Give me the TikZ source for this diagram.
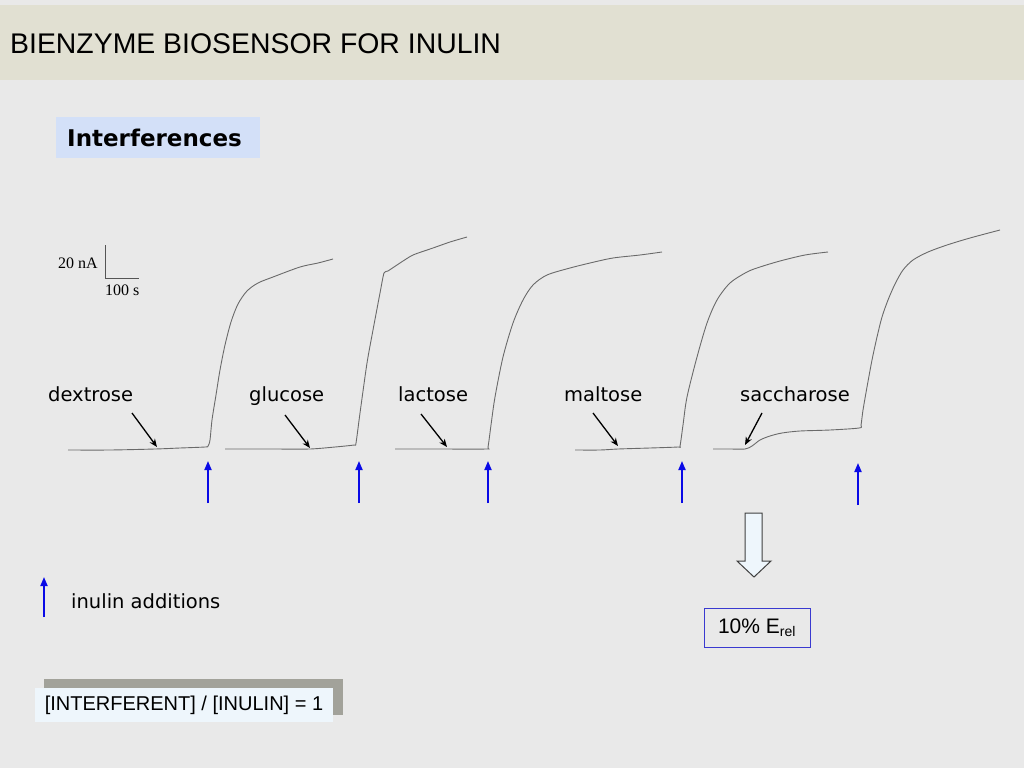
\documentclass[tikz,border=0pt]{standalone}
\usepackage{fontspec}
\setmainfont{Liberation Sans}
\newfontfamily\verd{DejaVu Sans}
\newfontfamily\tms{Liberation Serif}
\usetikzlibrary{arrows.meta}
\definecolor{bgc}{HTML}{E9E9E9}
\definecolor{bandc}{HTML}{E1E0D2}
\definecolor{intc}{HTML}{D3E0F8}
\definecolor{curvec}{HTML}{6A6A6A}
\definecolor{bluearr}{HTML}{0A0AE6}
\definecolor{paleblue}{HTML}{EEF6FC}
\definecolor{shadowc}{HTML}{A2A29A}
\definecolor{boxblue}{HTML}{3A3AD0}
\tikzset{
  trace/.style={curvec, line width=0.9pt, line join=round},
  addition/.style={bluearr, line width=1.8pt, -{Triangle[length=9pt,width=7pt]}},
  pointer/.style={black, line width=1.3pt, -{Stealth[length=8pt,width=6.5pt]}},
  sugar/.style={font=\verd\fontsize{19.5}{22}\selectfont, anchor=base west, inner sep=0pt},
}
\begin{document}
\begin{tikzpicture}[x=1pt,y=-1pt]
\useasboundingbox (0,0) rectangle (1024,768);
\fill[bgc] (0,0) rectangle (1024,768);
\fill[bandc] (0,5) rectangle (1024,80);
\node (title) [anchor=base west, inner sep=0pt, font=\fontsize{28.4}{32}\selectfont] at (10,53) {BIENZYME BIOSENSOR FOR INULIN};
\node (interf) [anchor=north west, fill=intc, minimum width=204pt, minimum height=41pt, text width=182pt, inner xsep=11pt, inner ysep=0pt, align=left, font=\verd\bfseries\fontsize{23}{26}\selectfont] at (56,117) {Interferences};

% scale bar
\coordinate (sbtop) at (105,245);
\coordinate (sbcorner) at (105,278);
\coordinate (sbright) at (139,278);
\draw[curvec!80!black, line width=1pt] (sbtop) -- (sbcorner) -- (sbright);
\node (nA) [anchor=base east, inner sep=0pt, font=\tms\fontsize{16}{18}\selectfont] at (98,268) {20 nA};
\node (sec) [anchor=base west, inner sep=0pt, font=\tms\fontsize{16}{18}\selectfont] at (105,295) {100 s};

% traces
\draw[trace] plot[smooth, tension=0.5] coordinates {(68,450) (110,450) (155,449) (180,448) (205,447) (208,446) (210,440) (212,420) (216,395) (220,370) (225,345) (231,322) (238,304) (247,291) (258,283) (273,277) (300,267) (318,263) (333,259)};
\draw[trace] plot[smooth, tension=0.4] coordinates {(225,449) (270,449) (310,449) (335,447) (354,445) (356,443) (360,413) (367,363) (373,330) (380,293) (384,273) (388,271) (400,263) (413,255) (433,248) (450,242) (467,237)};
\draw[trace] plot[smooth, tension=0.5] coordinates {(395,449) (440,449) (486,449) (488,447) (491,425) (495,397) (503,357) (513,323) (523,300) (533,285) (547,275) (570,268) (590,263) (613,258) (640,255) (662,252)};
\draw[trace] plot[smooth, tension=0.5] coordinates {(575,450) (600,450) (618,449) (650,448) (678,447) (680,446) (683,425) (687,397) (697,357) (707,323) (717,300) (730,283) (747,272) (760,267) (780,261) (805,255) (828,252)};
\draw[trace] plot[smooth, tension=0.5] coordinates {(713,449) (730,449) (745,449) (752,446) (760,440) (770,436) (782,433) (800,431) (830,430) (859,428) (861,425) (863,410) (867,387) (872,360) (877,337) (882,317) (888,300) (895,284) (903,270) (913,260) (928,252) (947,245) (970,238) (1000,230)};

% sugar labels and pointers
\node (dex) [sugar] at (48,401) {dextrose};
\node (glu) [sugar] at (249,401) {glucose};
\node (lac) [sugar] at (398,401) {lactose};
\node (mal) [sugar] at (564,401) {maltose};
\node (sac) [sugar] at (740,401) {saccharose};
\coordinate (dexA) at (132,413); \coordinate (dexB) at (157,447);
\coordinate (gluA) at (285,415); \coordinate (gluB) at (310,448);
\coordinate (lacA) at (421,414); \coordinate (lacB) at (447,447);
\coordinate (malA) at (593,413); \coordinate (malB) at (618,446);
\coordinate (sacA) at (762,413); \coordinate (sacB) at (745,445);
\draw[pointer] (dexA) -- (dexB);
\draw[pointer] (gluA) -- (gluB);
\draw[pointer] (lacA) -- (lacB);
\draw[pointer] (malA) -- (malB);
\draw[pointer] (sacA) -- (sacB);

% inulin additions
\coordinate (a1s) at (208,503); \coordinate (a1e) at (208,461);
\coordinate (a2s) at (359,503); \coordinate (a2e) at (359,461);
\coordinate (a3s) at (488,503); \coordinate (a3e) at (488,461);
\coordinate (a4s) at (682,503); \coordinate (a4e) at (682,461);
\coordinate (a5s) at (858,505); \coordinate (a5e) at (858,463);
\coordinate (lgs) at (44,617); \coordinate (lge) at (44,577);
\draw[addition] (a1s) -- (a1e);
\draw[addition] (a2s) -- (a2e);
\draw[addition] (a3s) -- (a3e);
\draw[addition] (a4s) -- (a4e);
\draw[addition] (a5s) -- (a5e);
\draw[addition] (lgs) -- (lge);
\node (legend) [sugar] at (71,608) {inulin additions};

% hollow arrow
\draw[fill=paleblue, draw=black!75, line width=1pt, line join=miter]
  (745,513) -- (762,513) -- (762,561) -- (771,561) -- (754,577) -- (737,561) -- (745,561) -- cycle;

% result box
\node (erel) [draw=boxblue, line width=1pt, minimum width=106pt, minimum height=39pt, inner sep=0pt, font=\fontsize{21}{24}\selectfont] at (757,627.5) {10\% E\textsubscript{\fontsize{14}{16}\selectfont rel}};

% ratio box
\fill[shadowc] (44,679) rectangle (343,715);
\node (ratio) [fill=paleblue, minimum width=298pt, minimum height=34pt, inner sep=0pt, font=\fontsize{20}{24}\selectfont] at (184,705) {[INTERFERENT] / [INULIN] = 1};
\end{tikzpicture}
\end{document}
